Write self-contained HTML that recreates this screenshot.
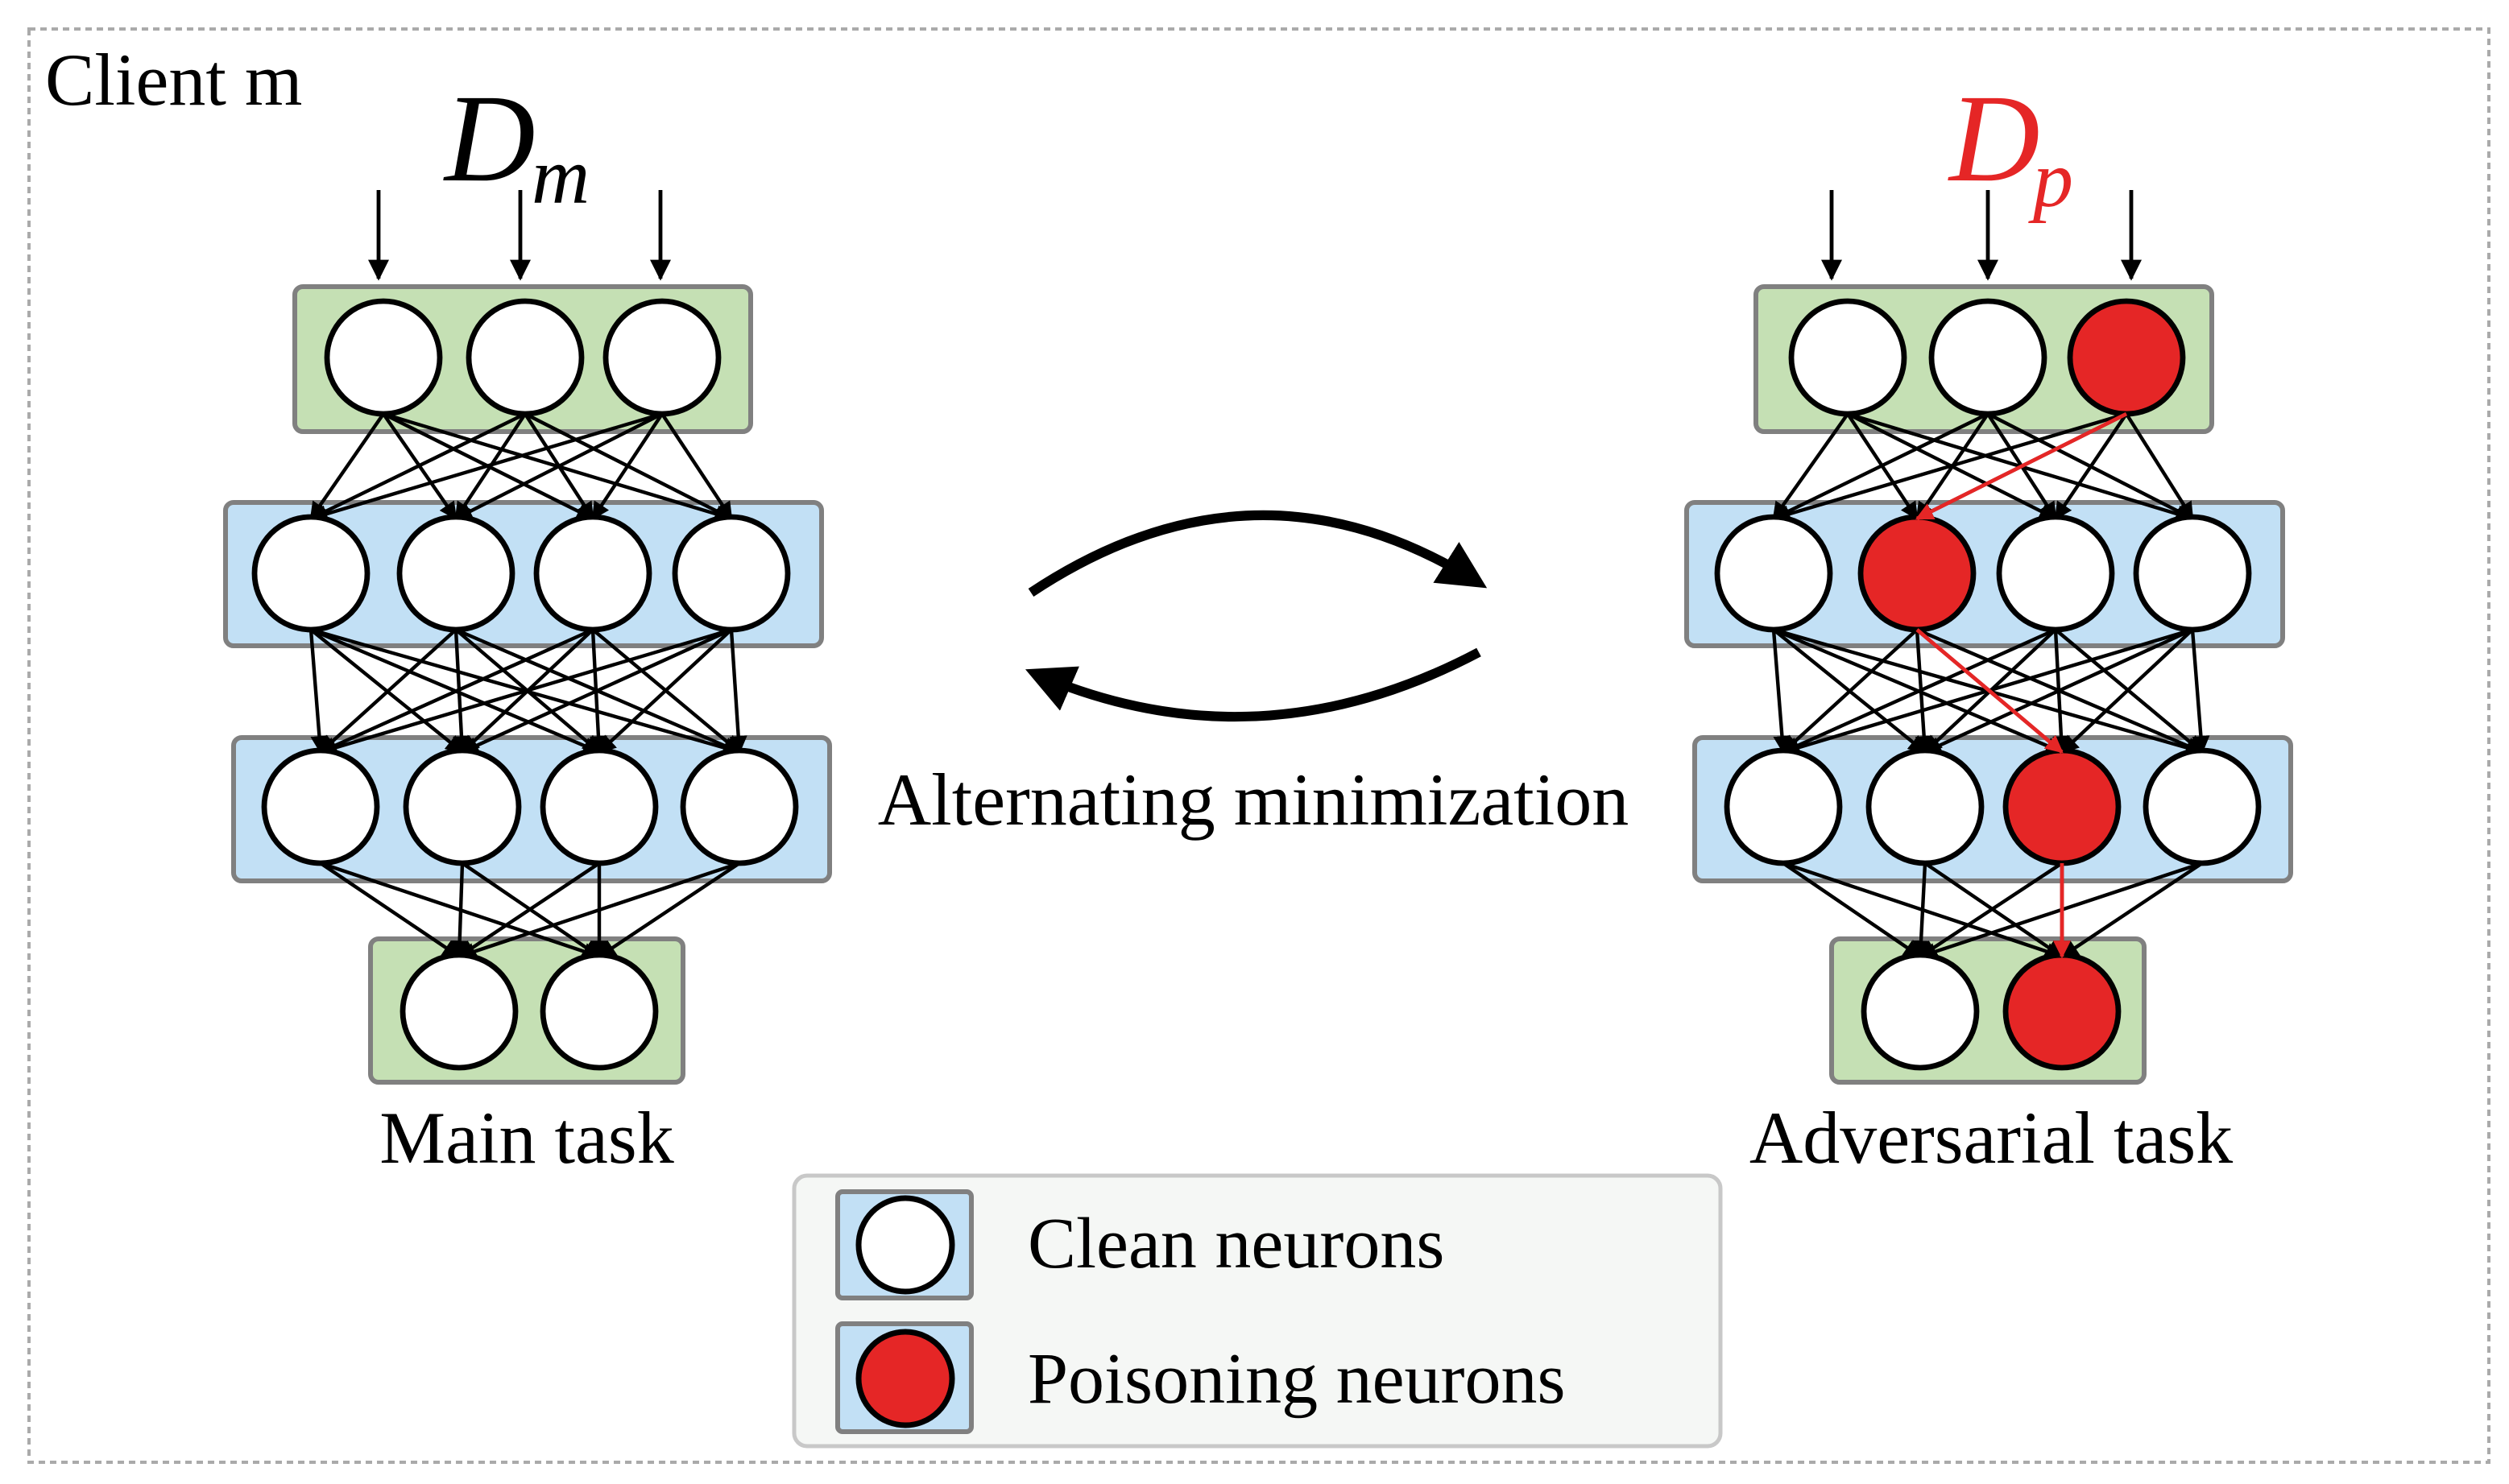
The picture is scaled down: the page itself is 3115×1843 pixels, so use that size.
<!DOCTYPE html>
<html><head><meta charset="utf-8"><style>
html,body{margin:0;padding:0;background:#fff;}
svg{display:block;}
text{font-family:"Liberation Serif",serif;}
</style></head><body>
<svg id="s" xmlns="http://www.w3.org/2000/svg" width="3115" height="1843" viewBox="0 0 1557.5 921.5">
<defs>
<marker id="ah" viewBox="0 0 10 10" refX="9" refY="5" markerWidth="11" markerHeight="11" orient="auto" markerUnits="userSpaceOnUse"><path d="M0,0 L10,5 L0,10 z" fill="#000"/></marker>
<marker id="ar" viewBox="0 0 10 10" refX="9" refY="5" markerWidth="11" markerHeight="11" orient="auto" markerUnits="userSpaceOnUse"><path d="M0,0 L10,5 L0,10 z" fill="#e52626"/></marker>
<marker id="ab" viewBox="0 0 10 10" refX="9" refY="5" markerWidth="13" markerHeight="13" orient="auto" markerUnits="userSpaceOnUse"><path d="M0,0 L10,5 L0,10 z" fill="#000"/></marker>
<marker id="big" viewBox="0 0 10 10" refX="8" refY="5" markerWidth="5" markerHeight="5" orient="auto"><path d="M0,0 L10,5 L0,10 z" fill="#000"/></marker>
</defs>
<rect x="18" y="18" width="1527" height="890" fill="none" stroke="#aaa" stroke-width="2" stroke-dasharray="4,3"/>
<text x="28" y="65" font-size="46">Client m</text>
<g id="boxes"></g>
<g id="conn"></g>
<g id="nodes"></g>
<g id="red"></g>
<text x="276" y="112" font-size="78" font-style="italic">D</text>
<text x="330" y="126" font-size="50" font-style="italic">m</text>
<text x="1210" y="112" font-size="78" font-style="italic" fill="#e52626">D</text>
<text x="1262" y="128" font-size="50" font-style="italic" fill="#e52626">p</text>
<text x="327" y="722" font-size="46" text-anchor="middle">Main task</text>
<text x="1236" y="722" font-size="46" text-anchor="middle">Adversarial task</text>
<text x="778" y="512" font-size="46" text-anchor="middle">Alternating minimization</text>
<path d="M640,368 Q780,275 918,362" fill="none" stroke="#000" stroke-width="6" marker-end="url(#big)"/>
<path d="M918,405 Q780,478 642,418" fill="none" stroke="#000" stroke-width="6" marker-end="url(#big)"/>
<rect x="493" y="730" width="575" height="168" rx="8" fill="#f5f7f5" stroke="#c8c8c8" stroke-width="2.5"/>
<rect x="520" y="740" width="83" height="66" rx="3" fill="#c2e0f5" stroke="#808080" stroke-width="3"/>
<circle cx="562" cy="773" r="29" fill="#fff" stroke="#000" stroke-width="3.5"/>
<rect x="520" y="822" width="83" height="67" rx="3" fill="#c2e0f5" stroke="#808080" stroke-width="3"/>
<circle cx="562" cy="856" r="29" fill="#e52626" stroke="#000" stroke-width="3.5"/>
<text x="638" y="787" font-size="45">Clean neurons</text>
<text x="638" y="871" font-size="45">Poisoning neurons</text>
</svg>
<script>
const NS="http://www.w3.org/2000/svg";
const boxes=document.getElementById('boxes'),conn=document.getElementById('conn'),nodes=document.getElementById('nodes'),red=document.getElementById('red');
function el(p,t,a){const e=document.createElementNS(NS,t);for(const k in a)e.setAttribute(k,a[k]);p.appendChild(e);return e;}
const R=35;
function net(layers,inputs,reds){
  layers.forEach(L=>{
    el(boxes,'rect',{x:L.box[0],y:L.box[1],width:L.box[2]-L.box[0],height:L.box[3]-L.box[1],rx:5,fill:L.g?'#c5e0b4':'#c2e0f5',stroke:'#808080','stroke-width':3});
  });
  inputs.forEach(x=>el(conn,'line',{x1:x,y1:118,x2:x,y2:173,stroke:'#000','stroke-width':2.4,'marker-end':'url(#ab)'}));
  for(let i=0;i<layers.length-1;i++){
    const A=layers[i],B=layers[i+1];
    A.xs.forEach(ax=>B.xs.forEach(bx=>{
      el(conn,'line',{x1:ax,y1:A.y+R,x2:bx,y2:B.y-R+1,stroke:'#000','stroke-width':2.2,'marker-end':'url(#ah)'});
    }));
  }
  layers.forEach(L=>{
    L.xs.forEach((x,j)=>el(nodes,'circle',{cx:x,cy:L.y,r:R,fill:(L.red===j)?'#e52626':'#fff',stroke:'#000','stroke-width':3.4}));
  });
  if(reds){
    for(let i=0;i<layers.length-1;i++){
      const A=layers[i],B=layers[i+1];
      el(red,'line',{x1:A.xs[A.red],y1:A.y+R,x2:B.xs[B.red],y2:B.y-R+1,stroke:'#e52626','stroke-width':2.4,'marker-end':'url(#ar)'});
    }
  }
}
net([
 {box:[183,178,466,268],g:1,xs:[238,326,411],y:222},
 {box:[140,312,510,401],xs:[193,283,368,454],y:356},
 {box:[145,458,515,547],xs:[199,287,372,459],y:501},
 {box:[230,583,424,672],g:1,xs:[285,372],y:628}
],[235,323,410],false);
net([
 {box:[1090,178,1373,268],g:1,xs:[1147,1234,1320],y:222,red:2},
 {box:[1047,312,1417,401],xs:[1101,1190,1276,1361],y:356,red:1},
 {box:[1052,458,1422,547],xs:[1107,1195,1280,1367],y:501,red:2},
 {box:[1137,583,1331,672],g:1,xs:[1192,1280],y:628,red:1}
],[1137,1234,1323],true);
</script>
</body></html>
